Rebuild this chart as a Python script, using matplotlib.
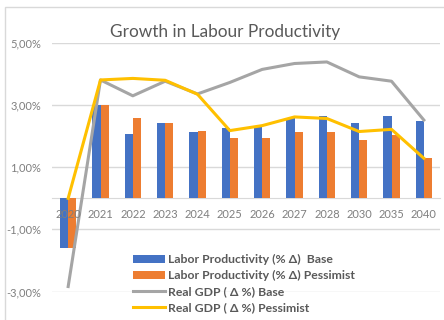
import matplotlib
matplotlib.use("Agg")
import matplotlib.pyplot as plt
from matplotlib.patches import Rectangle
from matplotlib.ticker import FuncFormatter
import numpy as np

plt.rcParams['font.family'] = ['Lato', 'DejaVu Sans']

years = ["2020", "2021", "2022", "2023", "2024", "2025", "2026",
         "2027", "2028", "2030", "2035", "2040"]
prod_base = [-1.59, 3.00, 2.06, 2.42, 2.12, 2.25, 2.32, 2.59, 2.65, 2.43, 2.65, 2.48]
prod_pess = [-1.59, 3.00, 2.58, 2.42, 2.18, 1.95, 1.95, 2.14, 2.14, 1.87, 2.04, 1.30]
gdp_base = [-2.84, 3.81, 3.30, 3.77, 3.36, 3.73, 4.15, 4.34, 4.39, 3.91, 3.77, 2.52]
gdp_pess = [0.00, 3.81, 3.86, 3.80, 3.35, 2.18, 2.34, 2.62, 2.57, 2.15, 2.22, 1.29]

labels = ["Labor Productivity (% \u0394)  Base",
          "Labor Productivity (% \u0394) Pessimist",
          "Real GDP ( \u0394 %) Base",
          "Real GDP ( \u0394 %) Pessimist"]

BLUE = "#4472C4"
ORANGE = "#ED7D31"
GREY = "#A5A5A5"
GOLD = "#FFC000"
GRID = "#D9D9D9"
TEXT = "#595959"

W, H = 444, 320
fig = plt.figure(figsize=(W / 100, H / 100), dpi=100)
fig.patch.set_facecolor("white")

# outer chart border (top and left visible)
fig.patches.append(Rectangle((5 / W, -0.05), 1.1, 1 - 7 / H + 0.05,
                             transform=fig.transFigure, fill=False,
                             edgecolor="#D9D9D9", linewidth=1.0))

ax = fig.add_axes([52 / W, (H - 291.5) / H, (440 - 52) / W, (291.5 - 43) / H])
x = np.arange(len(years))
bw = 0.25

b1 = ax.bar(x - bw / 2, prod_base, bw, color=BLUE, zorder=2)
b2 = ax.bar(x + bw / 2, prod_pess, bw, color=ORANGE, zorder=2)
l1, = ax.plot(x, gdp_base, color=GREY, linewidth=2.2, zorder=3,
              solid_joinstyle="round")
l2, = ax.plot(x, gdp_pess, color=GOLD, linewidth=2.2, zorder=4,
              solid_joinstyle="round")

ax.set_xlim(-0.5, len(years) - 0.5)
ax.set_ylim(-3, 5)
ax.set_yticks([-3, -1, 1, 3, 5])
ax.yaxis.set_major_formatter(FuncFormatter(lambda v, p: f"{v:.2f}%".replace(".", ",")))
ax.grid(axis="y", color=GRID, linewidth=1.0, zorder=0)
ax.set_axisbelow(True)

for s in ["top", "right", "left"]:
    ax.spines[s].set_visible(False)
ax.spines["bottom"].set_position(("data", 0))
ax.spines["bottom"].set_color(GRID)
ax.spines["bottom"].set_zorder(1)

# category labels sit just under the zero line, drawn over the bars
ax.set_xticks(x)
ax.set_xticklabels([])
ax.tick_params(axis="x", length=0)
for xi, yr in zip(x, years):
    ax.annotate(yr, (xi, 0), xytext=(0, -12), textcoords="offset points",
                ha="center", va="center", fontsize=8, color="#7F7F7F",
                zorder=6)
ax.tick_params(axis="y", length=0, pad=8, labelsize=8, labelcolor="#7F7F7F")

fig.text(225 / W, 1 - 32 / H, "Growth in Labour Productivity", ha="center",
         va="center", fontsize=12.4, color=TEXT)

fig.legend([b1, b2, l1, l2], labels, loc="upper left",
           bbox_to_anchor=(127 / W, 1 - 248 / H),
           frameon=False, prop={"size": 8.8, "weight": "bold"},
           labelcolor=TEXT, handlelength=2.6, handleheight=0.6,
           handletextpad=0.25, labelspacing=0.4, borderpad=0)

fig.savefig("out.png", dpi=100)
